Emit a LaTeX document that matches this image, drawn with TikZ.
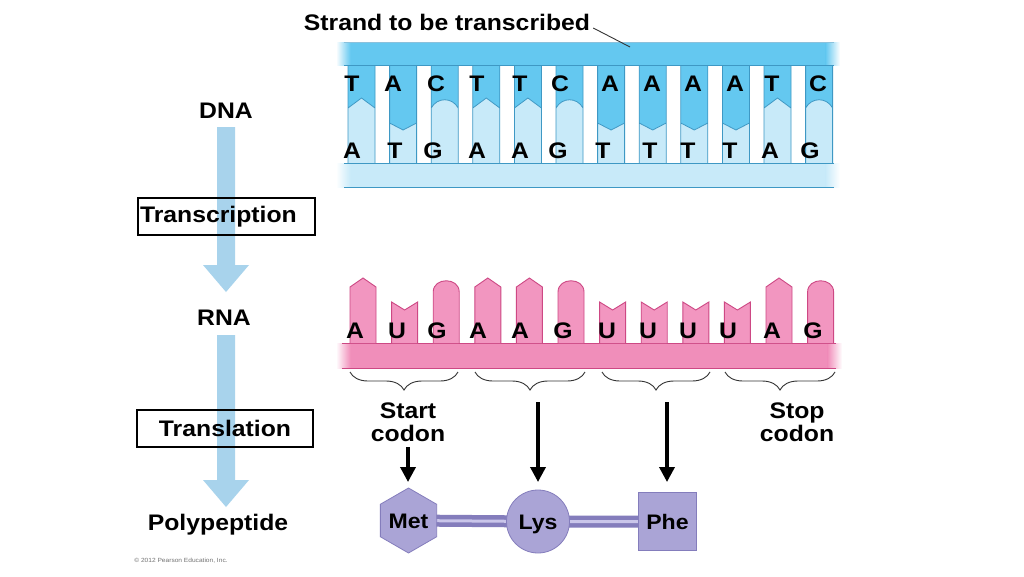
\documentclass[tikz,border=0pt]{standalone}
\usepackage{fontspec}
\setmainfont{Liberation Sans}[FakeStretch=1.1]
\usetikzlibrary{arrows.meta,shapes.geometric,decorations.pathreplacing}
\pgfdeclarelayer{back}
\pgfdeclarelayer{mid}
\pgfsetlayers{back,mid,main}
\definecolor{dnadark}{RGB}{100,200,240}
\definecolor{dnalight}{RGB}{200,234,249}
\definecolor{dnaline}{RGB}{62,152,196}
\definecolor{rnafill}{RGB}{242,150,192}
\definecolor{rnaband}{RGB}{240,142,186}
\definecolor{rnaline}{RGB}{205,72,132}
\definecolor{flowblue}{RGB}{168,211,236}
\definecolor{lav}{RGB}{170,164,214}
\definecolor{lavline}{RGB}{132,125,188}
\definecolor{lavlight}{RGB}{202,198,234}
\begin{document}
\begin{tikzpicture}[x=1pt,y=-1pt,
  lbl/.style={font=\fontsize{22.5}{23}\selectfont\bfseries, inner sep=0pt, anchor=base},
  nuc/.style={font=\fontsize{22.5}{27}\selectfont\bfseries, inner sep=0pt, anchor=base},
  amino/.style={font=\fontsize{21}{24}\selectfont\bfseries, inner sep=0pt, fill=lav, draw=lavline, line width=0.8pt, text height=15pt, text depth=0pt},
  labelbox/.style={draw=black, line width=1.2pt, minimum height=37pt, inner ysep=0pt, font=\fontsize{22.5}{27}\selectfont\bfseries},
  codonbrace/.style={decorate, decoration={brace, amplitude=18pt, mirror}, draw=black!80, line width=0.9pt},
  tarrow/.style={line width=3.5pt, -{Triangle[length=15pt,width=15pt]}},
  link/.style={draw=lavline, line width=4.5pt, double=lavlight, double distance=3pt},
  barline/.style={draw=dnaline, line width=0.8pt},
  rbar/.style={fill=rnafill, draw=rnaline, line width=0.9pt}]
\useasboundingbox (0,0) rectangle (1024,576);
\begin{pgfonlayer}{back}
\fill[white] (0,0) rectangle (1024,576);
\end{pgfonlayer}

% ---------------- DNA ----------------
% bottom A (top T): pointed peak
\foreach \i in {0,3,4,10}{
  \pgfmathsetmacro\L{348+41.6*\i}\pgfmathsetmacro\R{\L+27}\pgfmathsetmacro\M{\L+13.5}
  \fill[dnadark] (\L,65) -- (\R,65) -- (\R,108) -- (\M,98) -- (\L,108) -- cycle;
  \fill[dnalight] (\L,163) -- (\L,108) -- (\M,98) -- (\R,108) -- (\R,163) -- cycle;
  \draw[barline] (\L,65) -- (\L,163) (\R,65) -- (\R,163) (\L,108) -- (\M,98) -- (\R,108);
}
% bottom G (top C): rounded
\foreach \i in {2,5,11}{
  \pgfmathsetmacro\L{348+41.6*\i}\pgfmathsetmacro\R{\L+27}\pgfmathsetmacro\A{\L+6}\pgfmathsetmacro\B{\L+21}
  \fill[dnadark] (\L,65) -- (\R,65) -- (\R,108) .. controls (\B,97) and (\A,97) .. (\L,108) -- cycle;
  \fill[dnalight] (\L,163) -- (\L,108) .. controls (\A,97) and (\B,97) .. (\R,108) -- (\R,163) -- cycle;
  \draw[barline] (\L,65) -- (\L,163) (\R,65) -- (\R,163) (\L,108) .. controls (\A,97) and (\B,97) .. (\R,108);
}
% bottom T (top A): notch
\foreach \i in {1,6,7,8,9}{
  \pgfmathsetmacro\L{348+41.6*\i}\pgfmathsetmacro\R{\L+27}\pgfmathsetmacro\M{\L+13.5}
  \fill[dnadark] (\L,65) -- (\R,65) -- (\R,123) -- (\M,130) -- (\L,123) -- cycle;
  \fill[dnalight] (\L,163) -- (\L,123) -- (\M,130) -- (\R,123) -- (\R,163) -- cycle;
  \draw[barline] (\L,65) -- (\L,163) (\R,65) -- (\R,163) (\L,123) -- (\M,130) -- (\R,123);
}
% strands
\fill[dnadark] (350,42) rectangle (826,65);
\shade[left color=white, right color=dnadark] (336,42) rectangle (350.5,65);
\shade[left color=dnadark, right color=white] (825.5,42) rectangle (840,65);
\fill[dnalight] (350,163) rectangle (826,187);
\shade[left color=white, right color=dnalight] (336,163) rectangle (350.5,187);
\shade[left color=dnalight, right color=white] (825.5,163) rectangle (840,187);
\draw[barline, draw=dnaline!60] (344,42) -- (834,42);
\draw[barline] (344,65) -- (834,65) (344,163) -- (834,163) (344,187) -- (834,187);

\foreach \x/\l [count=\k] in {352/T,393/A,436/C,477/T,520/T,560/C,610/A,652/A,693/A,735/A,772/T,818/C}
  \node[nuc] (dt\k) at (\x,91.5) {\l};
\foreach \x/\l [count=\k] in {352/A,395/T,433/G,477/A,520/A,558/G,603/T,650/T,688/T,730/T,770/A,810/G}
  \node[nuc] (db\k) at (\x,158) {\l};

\node[lbl] (strand) at (447,30) {Strand to be transcribed};
\coordinate (strandpt) at (630,47);
\draw[line width=0.9pt, black!80] (strand.base east) ++(3,-2) -- (strandpt);

% ---------------- RNA ----------------
\fill[rnaband] (350,343) rectangle (828,368);
\shade[left color=white, right color=rnaband] (336,343) rectangle (350.5,368);
\shade[left color=rnaband, right color=white] (827.5,343) rectangle (842,368);
\draw[rnaline, line width=0.9pt] (342,343) -- (836,343) (342,368) -- (836,368);
\foreach \i in {0,3,4,10}{
  \pgfmathsetmacro\L{350+41.6*\i}\pgfmathsetmacro\R{\L+26}\pgfmathsetmacro\M{\L+13}
  \draw[rbar] (\L,343) -- (\L,287) -- (\M,278) -- (\R,287) -- (\R,343);
}
\foreach \i in {2,5,11}{
  \pgfmathsetmacro\L{350+41.6*\i}\pgfmathsetmacro\R{\L+26}
  \draw[rbar] (\L,343) -- (\L,292) .. controls (\L,277) and (\R,277) .. (\R,292) -- (\R,343);
}
\foreach \i in {1,6,7,8,9}{
  \pgfmathsetmacro\L{350+41.6*\i}\pgfmathsetmacro\R{\L+26}\pgfmathsetmacro\M{\L+13}
  \draw[rbar] (\L,343) -- (\L,302) -- (\M,310) -- (\R,302) -- (\R,343);
}
\foreach \x/\l [count=\k] in {355/A,397/U,437/G,478/A,520/A,563/G,607/U,648/U,688/U,728/U,772/A,813/G}
  \node[nuc] (r\k) at (\x,338) {\l};

% codon braces
\draw[codonbrace] (350,372) -- (458,372) coordinate[pos=0.5] (c1);
\draw[codonbrace] (475,372) -- (585,372) coordinate[pos=0.5] (c2);
\draw[codonbrace] (602,372) -- (710,372) coordinate[pos=0.5] (c3);
\draw[codonbrace] (725,372) -- (835,372) coordinate[pos=0.5] (c4);

\node[lbl, align=center, anchor=base] (start) at (408,441) {Start\\codon};
\node[lbl, align=center, anchor=base] (stop) at (797,441) {Stop\\codon};

% ---------------- polypeptide ----------------
\coordinate (a1) at (408,447);
\coordinate (a2) at (538,402);
\coordinate (a3) at (667,402);
\node[amino, regular polygon, regular polygon sides=6, shape border rotate=30, minimum size=65pt] (met) at (408.5,520.5) {Met};
\node[amino, circle, minimum size=63pt] (lys) at (538,521.5) {Lys};
\node[amino, rectangle, minimum width=58pt, minimum height=58pt] (phe) at (667.5,521.5) {Phe};
\begin{pgfonlayer}{mid}
\draw[link] (met.center) -- (lys.center) -- (phe.center);
\end{pgfonlayer}
\draw[tarrow] (a1) -- (408,482);
\draw[tarrow] (a2) -- (538,482);
\draw[tarrow] (a3) -- (667,482);

% ---------------- left flow ----------------
\node[lbl] (dna) at (226,118) {DNA};
\node[lbl] (rna) at (224,325) {RNA};
\node[lbl] (poly) at (218,530) {Polypeptide};
\fill[flowblue] (217,127) -- (235,127) -- (235,265) -- (249,265) -- (226,292) -- (203,265) -- (217,265) -- cycle;
\fill[flowblue] (217,335) -- (235,335) -- (235,480) -- (249,480) -- (226,507) -- (203,480) -- (217,480) -- cycle;
\node[labelbox, minimum width=177pt, text width=173pt, inner xsep=2pt, align=left] (transcr) at (226.5,216.5) {Transcription};
\node[labelbox, minimum width=176pt] (transl) at (225,428.5) {Translation};

\node[font=\fontsize{6}{7}\selectfont, text=black!55, inner sep=0pt] (copy) at (181,561) {© 2012 Pearson Education, Inc.};
\end{tikzpicture}
\end{document}
